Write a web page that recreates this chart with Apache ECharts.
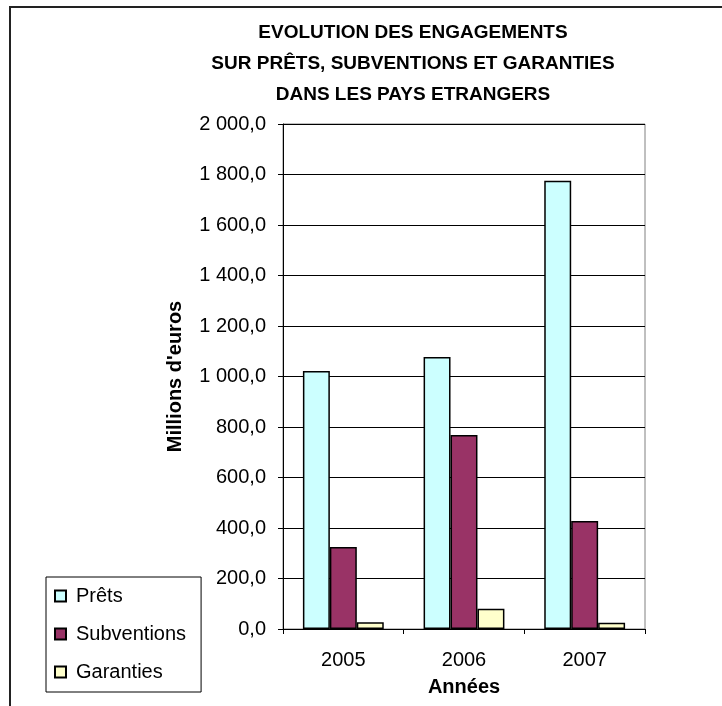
<!DOCTYPE html>
<html>
<head>
<meta charset="utf-8">
<script src="https://cdn.jsdelivr.net/npm/echarts@6/dist/echarts.min.js"></script>
<style>
html,body{margin:0;padding:0;background:#fff;}
#chart{width:722px;height:706px;}
</style>
</head>
<body>
<div id="chart"></div>
<script>
var titleLines = ['EVOLUTION DES ENGAGEMENTS', 'SUR PRÊTS, SUBVENTIONS ET GARANTIES', 'DANS LES PAYS ETRANGERS'];
var categories = ['2005', '2006', '2007'];
var seriesNames = ['Prêts', 'Subventions', 'Garanties'];
var prets = [1022, 1077, 1775];
var subventions = [325, 768, 428];
var garanties = [27, 80, 25];
var seriesColors = ['#CCFFFF', '#993366', '#FFFFCC'];
var yMin = 0, yMax = 2000, yStep = 200;
var yAxisName = "Millions d'euros";
var xAxisName = 'Années';

function frNum(v) {
  var s = v.toFixed(1).replace('.', ',');
  var parts = s.split(',');
  parts[0] = parts[0].replace(/\B(?=(\d{3})+(?!\d))/g, ' ');
  return parts.join(',');
}

var FONT = 'Liberation Sans, Arial, sans-serif';
var values = [prets, subventions, garanties];
var chart = echarts.init(document.getElementById('chart'), null, {renderer: 'canvas'});
chart.setOption({
  backgroundColor: '#fff',
  animation: false,
  graphic: [{
    type: 'rect', silent: true, z: -1,
    shape: {x: 10, y: 7, width: 900, height: 900},
    style: {fill: 'none', stroke: '#222', lineWidth: 2}
  }],
  title: {
    text: titleLines.join('\n'),
    left: 413, top: 17, padding: 0,
    textAlign: 'center',
    textStyle: {fontFamily: FONT, fontSize: 19, fontWeight: 'bold', color: '#000', lineHeight: 31}
  },
  legend: {
    orient: 'vertical',
    left: 46, top: 577,
    padding: [9, 15, 10, 8],
    borderColor: '#000', borderWidth: 1,
    itemWidth: 11, itemHeight: 11, itemGap: 18,
    icon: 'rect',
    textStyle: {fontFamily: FONT, fontSize: 20, color: '#000', padding: [0, 0, 0, 5]},
    data: seriesNames
  },
  grid: {
    left: 283, right: 77, top: 124, bottom: 77,
    show: true, borderColor: '#808080', borderWidth: 1,
    containLabel: false
  },
  xAxis: {
    type: 'category',
    data: categories,
    name: xAxisName,
    nameLocation: 'middle',
    nameGap: 48,
    nameTextStyle: {fontFamily: FONT, fontSize: 20, fontWeight: 'bold', color: '#000'},
    axisLine: {lineStyle: {color: '#000', width: 1}},
    axisTick: {show: true, length: 5, lineStyle: {color: '#000'}},
    axisLabel: {fontFamily: FONT, fontSize: 20, color: '#000', margin: 21}
  },
  yAxis: {
    type: 'value',
    min: yMin, max: yMax, interval: yStep,
    name: yAxisName,
    nameLocation: 'middle',
    nameGap: 98,
    nameTextStyle: {fontFamily: FONT, fontSize: 20, fontWeight: 'bold', color: '#000'},
    axisLine: {show: true, lineStyle: {color: '#000', width: 1}},
    axisTick: {show: true, length: 5, lineStyle: {color: '#000'}},
    axisLabel: {fontFamily: FONT, fontSize: 20, color: '#000', margin: 17, formatter: frNum},
    splitLine: {show: true, lineStyle: {color: '#000', width: 1}}
  },
  series: seriesNames.map(function (n, i) {
    return {
      name: n,
      type: 'bar',
      data: values[i],
      barGap: '0%',
      barCategoryGap: '33%',
      itemStyle: {color: seriesColors[i], borderColor: '#000', borderWidth: 1.5}
    };
  })
});
</script>
</body>
</html>
